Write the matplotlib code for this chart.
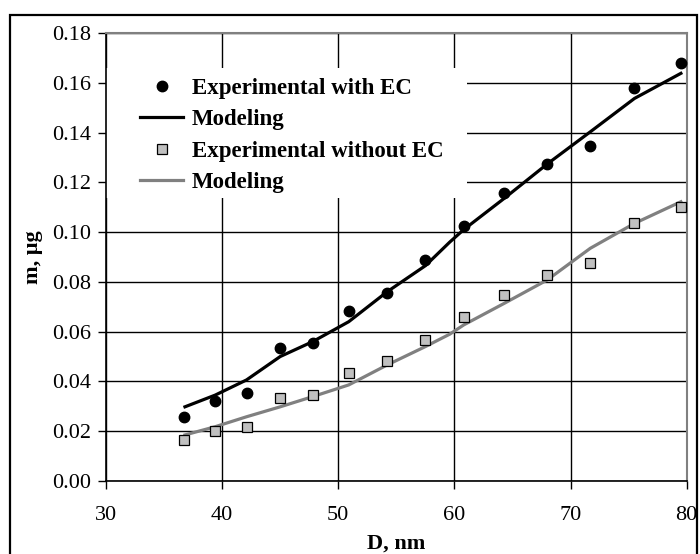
import numpy as np
import matplotlib.pyplot as plt
from matplotlib.patches import Rectangle

plt.rcParams['font.family'] = ['Liberation Serif', 'DejaVu Serif']

# particle diameter, nm
D_exp = [36.7, 39.4, 42.1, 45.0, 47.8, 50.9, 54.2, 57.5, 60.8, 64.3, 68.0, 71.7, 75.5, 79.5]
# mass with EC, ug
m_ec = [0.0258, 0.0323, 0.0352, 0.0533, 0.0553, 0.0683, 0.0754, 0.0888,
        0.1025, 0.1158, 0.1274, 0.1346, 0.1578, 0.1678]
# mass without EC, ug
m_noec = [0.0165, 0.0202, 0.0218, 0.0332, 0.0346, 0.0433, 0.0483, 0.0566,
          0.0660, 0.0747, 0.0827, 0.0875, 0.1035, 0.1102]

# model curves
D_mod = [36.8, 39.4, 42.1, 45.0, 47.8, 50.9, 54.2, 57.5, 59.6, 60.8, 64.3, 68.0, 71.7, 75.5, 79.5]
m_mod_ec = [0.0298, 0.0345, 0.0406, 0.0500, 0.0560, 0.0640, 0.0760, 0.0865,
            0.0960, 0.1010, 0.1136, 0.1274, 0.1403, 0.1537, 0.1638]
m_mod_noec = [0.0185, 0.0218, 0.0258, 0.0298, 0.0339, 0.0386, 0.0466, 0.0540,
              0.0590, 0.0627, 0.0714, 0.0808, 0.0935, 0.1035, 0.1122]

fig = plt.figure(figsize=(7.0, 5.54), dpi=100)
ax = fig.add_axes([0.1514, 0.1318, 0.8296, 0.8086])

# outer frame
fig.patches.append(Rectangle((10 / 700, -0.01), 687 / 700, 1 - 15 / 554 + 0.01,
                             transform=fig.transFigure, fill=False,
                             edgecolor='black', linewidth=1.6))

ax.plot(D_exp, m_ec, 'o', color='black', markersize=7.5, label='Experimental with EC', zorder=4)
ax.plot(D_mod, m_mod_ec, '-', color='black', linewidth=2.3, label='Modeling', zorder=3)
ax.plot(D_exp, m_noec, 's', color='#c0c0c0', markeredgecolor='black', markeredgewidth=0.9,
        markersize=7, label='Experimental without EC', zorder=4)
ax.plot(D_mod, m_mod_noec, '-', color='#808080', linewidth=2.3, label='Modeling', zorder=3)

ax.set_xlim(30, 80)
ax.set_ylim(0, 0.18)
ax.set_xticks(np.arange(30, 81, 10))
ax.set_yticks(np.arange(0, 0.181, 0.02))
ax.set_yticklabels(['%.2f' % v for v in np.arange(0, 0.181, 0.02)])
ax.grid(True, color='black', linewidth=1.0, zorder=0)
ax.set_axisbelow(True)
ax.tick_params(axis='both', labelsize=16, direction='out', length=6, width=1.0)
ax.tick_params(axis='y', pad=5)
ax.tick_params(axis='x', pad=12)

for s in ['left', 'bottom']:
    ax.spines[s].set_color('black')
    ax.spines[s].set_linewidth(1.2)
for s in ['top', 'right']:
    ax.spines[s].set_color('#808080')
    ax.spines[s].set_linewidth(1.5)

ax.set_xlabel('D, nm', fontsize=16, fontweight='bold', labelpad=6)
ax.set_ylabel('m, \u03bcg', fontsize=16, fontweight='bold', labelpad=6)

# white patch behind the legend hides the grid there
ax.add_patch(Rectangle((30, 0.1137), 31.1, 0.0522, facecolor='white',
                       edgecolor='none', zorder=1))

leg = ax.legend(loc='upper left', bbox_to_anchor=(0.0585, 0.90),
                prop={'weight': 'bold', 'size': 16.5}, frameon=False,
                handlelength=1.9, handletextpad=0.35, labelspacing=0.45,
                borderpad=0.0, borderaxespad=0.0)

fig.savefig('out.png', dpi=100)
